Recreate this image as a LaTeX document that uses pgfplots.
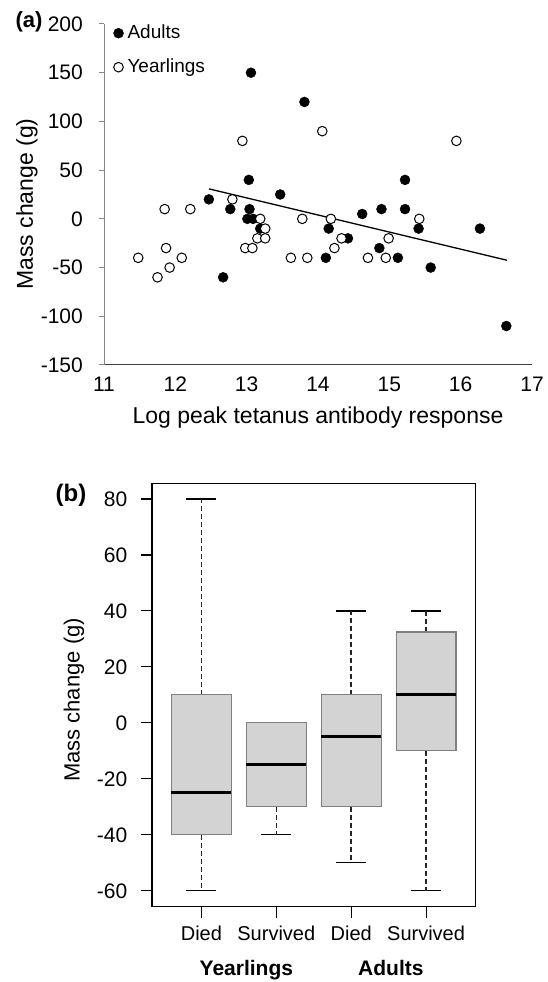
\documentclass[border=0pt]{standalone}
\usepackage{fontspec}
\setmainfont{Liberation Sans}
\usepackage{pgfplots}
\pgfplotsset{compat=1.18}
\usepgfplotslibrary{statistics}
\definecolor{boxfill}{HTML}{D3D3D3}
\definecolor{boxedge}{HTML}{808080}
\definecolor{axgray}{HTML}{868686}
\newcommand{\fs}[1]{\fontsize{#1}{#1}\selectfont}
\pgfplotsset{singlemark/.style={legend image code/.code={\draw[##1] plot coordinates {(0pt,0pt)};}}}
\pgfplotsset{
 boxplot/every box/.style={fill=boxfill, draw=boxedge, line width=1.2pt, solid},
 boxplot/every whisker/.style={draw=black!85, line width=1.6pt, dash pattern=on 5pt off 3pt},
 boxplot/every median/.style={draw=black, line width=3pt, solid},
 cap/.style={black, line width=1.3pt, solid, forget plot},
}
\begin{document}
\begin{tikzpicture}
\path[use as bounding box] (0,0) rectangle (548pt,982pt);
% ---------------- panel (a)
\begin{axis}[
 at={(104pt,617pt)}, anchor=south west,
 scale only axis, width=428pt, height=341pt,
 xmin=11, xmax=17, ymin=-150, ymax=200,
 xtick={11,12,13,14,15,16,17}, ytick={-150,-100,-50,0,50,100,150,200},
 axis x line=bottom, axis y line=left,
 x axis line style={-, draw=black!75, line width=1pt},
 y axis line style={-, draw=axgray, line width=1pt},
 tick align=outside,
 xtick style={draw=none},
 ytick style={draw=axgray, line width=1pt},
 major tick length=5pt,
 /pgf/number format/assume math mode=true,
 tick label style={font=\fs{21}},
 xticklabel style={anchor=base, yshift=-21.3pt},
 yticklabel style={anchor=east, inner sep=0pt, xshift=-16pt},
 xlabel={Log peak tetanus antibody response},
 xlabel style={at={(axis description cs:0.5,-0.171)}, anchor=base, font=\fs{23}},
 ylabel={Mass change (g)},
 ylabel style={at={(axis description cs:-0.1803,0.472)}, anchor=center, font=\fs{23}},
 clip=false,
 legend style={at={(0.0218,1)}, anchor=north west, draw=none, fill=none, inner sep=0pt,
   font=\fs{19}, row sep=16pt, column sep=4pt,
   nodes={inner sep=0pt, text height=14pt, text depth=4pt}},
 legend cell align=left,
]
\addplot[only marks, mark=*, mark size=5pt, mark options={fill=black, draw=black}, singlemark]
 coordinates {
 (12.47,20) (12.77,10) (12.67,-60) (13.03,40) (13.04,10) (13.01,0) (13.09,0)
 (13.19,-10) (13.06,150) (13.47,25) (13.81,120) (14.11,-40) (14.15,-10)
 (14.42,-20) (14.62,5) (14.86,-30) (14.89,10) (15.12,-40) (15.22,40)
 (15.22,10) (15.41,-10) (15.58,-50) (16.27,-10) (16.64,-110)
 };
\addlegendentry{Adults}
\addplot[only marks, mark=*, mark size=4.8pt, mark options={fill=white, draw=black, line width=1pt}, singlemark]
 coordinates {
 (11.48,-40) (11.75,-60) (11.85,10) (11.87,-30) (11.92,-50) (12.09,-40)
 (12.21,10) (12.80,20) (12.94,80) (12.98,-30) (13.08,-30) (13.15,-20)
 (13.19,0) (13.26,-10) (13.26,-20) (13.62,-40) (13.78,0) (13.85,-40)
 (14.06,90) (14.18,0) (14.23,-30) (14.33,-20) (14.70,-40) (14.95,-40)
 (14.99,-20) (15.42,0) (15.94,80)
 };
\addlegendentry{Yearlings}
\addplot[black, line width=1.3pt, forget plot] coordinates {(12.47,30.8) (16.65,-42.5)};
\end{axis}
\node[font=\bfseries\fs{22}] at (29pt,960pt) {(a)};
% ---------------- panel (b)
\begin{axis}[
 at={(152pt,75.5pt)}, anchor=south west,
 scale only axis, width=323.5pt, height=423.2pt,
 xmin=0.34, xmax=4.66, ymin=-65.6, ymax=85.6,
 xtick={1,2,3,4}, xticklabels={Died,Survived,Died,Survived},
 ytick={-60,-40,-20,0,20,40,60,80},
 tick align=outside, tick pos=left, major tick length=11.5pt,
 axis line style={black, line width=1.1pt},
 tick style={black, line width=1.1pt, solid},
 /pgf/number format/assume math mode=true,
 yticklabel style={font=\fs{21}, anchor=east, inner sep=0pt, xshift=-13pt},
 xticklabel style={font=\fs{20}, anchor=base, inner sep=0pt, yshift=-22.5pt},
 ylabel={Mass change (g)},
 ylabel style={at={(axis description cs:-0.2411,0.488)}, anchor=center, font=\fs{22}},
 clip=false,
 boxplot/draw direction=y,
]
% whisker caps (solid)
\addplot[cap] coordinates {(0.8,80) (1.2,80)};
\addplot[cap] coordinates {(0.8,-60) (1.2,-60)};
\addplot[cap] coordinates {(1.8,-40) (2.2,-40)};
\addplot[cap] coordinates {(2.8,40) (3.2,40)};
\addplot[cap] coordinates {(2.8,-50) (3.2,-50)};
\addplot[cap] coordinates {(3.8,40) (4.2,40)};
\addplot[cap] coordinates {(3.8,-60) (4.2,-60)};
% boxes
\addplot[boxplot prepared={draw position=1, lower whisker=-60, lower quartile=-40,
  median=-25, upper quartile=10, upper whisker=80, box extend=0.8, whisker extend=0}]
  coordinates {};
\addplot[boxplot prepared={draw position=2, lower whisker=-40, lower quartile=-30,
  median=-15, upper quartile=0, upper whisker=0, box extend=0.8, whisker extend=0}]
  coordinates {};
\addplot[boxplot prepared={draw position=3, lower whisker=-50, lower quartile=-30,
  median=-5, upper quartile=10, upper whisker=40, box extend=0.8, whisker extend=0}]
  coordinates {};
\addplot[boxplot prepared={draw position=4, lower whisker=-60, lower quartile=-10,
  median=10, upper quartile=32.5, upper whisker=40, box extend=0.8, whisker extend=0}]
  coordinates {};
\node[font=\bfseries\fs{21}, anchor=base] at (axis cs:1.60,-90.1) {Yearlings};
\node[font=\bfseries\fs{21}, anchor=base] at (axis cs:3.53,-90.1) {Adults};
\end{axis}
\node[font=\bfseries\fs{24}] at (71pt,487pt) {(b)};
\end{tikzpicture}
\end{document}
